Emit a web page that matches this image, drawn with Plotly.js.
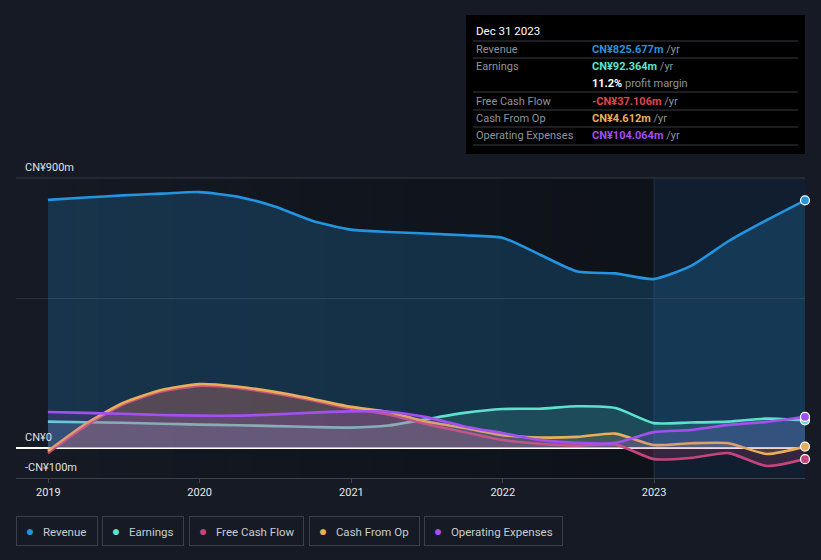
<!DOCTYPE html>
<html>
<head>
<meta charset="utf-8">
<script src="https://cdn.plot.ly/plotly-3.0.1.min.js"></script>
<style>
  html, body { margin: 0; padding: 0; background: #151a24; }
  #chart { width: 821px; height: 560px; }
</style>
</head>
<body>
<div id="chart"></div>
<script>
// ---- data ----
const dates = ['2018-12-31','2019-03-31','2019-06-30','2019-09-30','2019-12-31','2020-03-31','2020-06-30','2020-09-30','2020-12-31','2021-03-31','2021-06-30','2021-09-30','2021-12-31','2022-03-31','2022-06-30','2022-09-30','2022-12-31','2023-03-31','2023-06-30','2023-09-30','2023-12-31'];
const revenue  = [827,835,842,848,853,838,805,757,728,720,715,709,701,645,588,582,563,607,690,760,825.677];
const earnings = [88,86,84,81,78,76,73,70,68,75,96,117,130,131,139,133,83,85,88,98,92.364];
const freeCashFlow = [-17,72,145,188,207,200,182,158,131,112,80,53,27,14,8,12,-37,-33,-17,-60,-37.106];
const cashFromOp   = [-10,80,150,193,213,205,187,163,137,120,88,67,43,35,37,48,10,16,16,-20,4.612];
const opExpenses   = [120,117,114,110,108,108,112,118,122,121,103,72,50,27,17,17,53,60,77,87,104.064];

const seriesNames = ['Revenue','Earnings','Free Cash Flow','Cash From Op','Operating Expenses'];
const seriesColors = ['#2394df','#5fe0cc','#c4457e','#e8ae5a','#a44ff0'];
const fillColors = ['rgba(35,148,223,0.22)','rgba(95,224,204,0.16)','rgba(196,69,126,0.2)','rgba(232,174,90,0.16)','rgba(164,79,240,0.16)'];
const seriesData = [revenue, earnings, freeCashFlow, cashFromOp, opExpenses];

const xTickVals = ['2019-01-01','2020-01-01','2021-01-01','2022-01-01','2023-01-01'];
const xTickText = ['2019','2020','2021','2022','2023'];
const yLabelVals = [900, 0, -100];
const yLabelText = ['CN¥900m','CN¥0','-CN¥100m'];

const tipTitle = 'Dec 31 2023';
const tipLabels = ['Revenue','Earnings','','Free Cash Flow','Cash From Op','Operating Expenses'];
const tipValues = ['CN¥825.677m','CN¥92.364m','11.2%','-CN¥37.106m','CN¥4.612m','CN¥104.064m'];
const tipColors = ['#2394df','#5fe0cc','#ffffff','#e0434d','#e8ae5a','#a44ff0'];
const tipSuffix = [' /yr',' /yr',' profit margin',' /yr',' /yr',' /yr'];

// ---- geometry helpers (pixel -> paper) ----
const L = 16, R = 805, T = 178, B = 478;
const px = v => (v - L) / (R - L);
const py = v => (B - v) / (B - T);

// ---- traces ----
const traces = [];
seriesData.forEach((s, i) => {
  traces.push({
    x: dates, y: s, type: 'scatter', mode: 'lines', name: seriesNames[i],
    line: {color: seriesColors[i], width: 2.6, shape: 'spline', smoothing: 0.6},
    fill: 'tozeroy', fillcolor: fillColors[i], hoverinfo: 'skip', showlegend: false
  });
});
seriesData.forEach((s, i) => {
  traces.push({
    x: [dates[dates.length-1]], y: [s[s.length-1]], type: 'scatter', mode: 'markers',
    marker: {color: seriesColors[i], size: 9, line: {color: '#ffffff', width: 1.2}},
    hoverinfo: 'skip', showlegend: false, cliponaxis: false
  });
});

// ---- shapes ----
const shapes = [];
// darkening gradient over the past period
const gStart = new Date(dates[0]).getTime(), gEnd = new Date('2023-01-01').getTime();
const nSlices = 24;
for (let k = 0; k < nSlices; k++) {
  const a = new Date(gStart + (gEnd - gStart) * k / nSlices).toISOString().slice(0,10);
  const b = new Date(gStart + (gEnd - gStart) * (k + 1) / nSlices).toISOString().slice(0,10);
  shapes.push({type:'rect', xref:'x', yref:'paper', x0:a, x1:b, y0:0, y1:1,
    fillcolor:'rgba(0,0,0,' + (0.02 + 0.3 * k / nSlices).toFixed(3) + ')', line:{width:0}, layer:'below'});
}
// highlighted last year
shapes.push({type:'rect', xref:'x', yref:'paper', x0:'2023-01-01', x1:dates[dates.length-1], y0:0, y1:1,
  fillcolor:'rgba(17,31,48,0.95)', line:{width:0}, layer:'below'});
shapes.push({type:'line', xref:'x', yref:'paper', x0:'2023-01-01', x1:'2023-01-01', y0:0, y1:1,
  line:{color:'rgba(40,70,100,0.6)', width:1}, layer:'below'});
// top rule
shapes.push({type:'line', xref:'paper', yref:'paper', x0:0, x1:1, y0:1, y1:1,
  line:{color:'#353b45', width:1}, layer:'below'});

// tooltip box
shapes.push({type:'rect', xref:'paper', yref:'paper', x0:px(466), x1:px(805), y0:py(154), y1:py(15),
  fillcolor:'#000000', line:{width:0}, layer:'above'});
[41, 58, 92, 110, 127, 145].forEach(yy => {
  shapes.push({type:'line', xref:'paper', yref:'paper', x0:px(473), x1:px(798), y0:py(yy), y1:py(yy),
    line:{color:'#3a3d44', width:1}, layer:'above'});
});

// ---- annotations ----
const annotations = [];
yLabelVals.forEach((v, i) => {
  annotations.push({xref:'paper', yref:'y', x: px(23), y: v, xanchor:'left', yanchor:'bottom',
    text: yLabelText[i], showarrow:false, yshift: 2, font:{color:'#dfe1e4', size:11, family:'Roboto'}});
});
annotations.push({xref:'paper', yref:'paper', x:px(474), y:py(31), xanchor:'left', yanchor:'middle',
  text: tipTitle, showarrow:false, font:{color:'#ffffff', size:11.5, family:'Roboto'}});
const tipRows = [49, 66, 83, 101, 118, 135];
tipLabels.forEach((lab, i) => {
  if (lab) annotations.push({xref:'paper', yref:'paper', x:px(474), y:py(tipRows[i]), xanchor:'left', yanchor:'middle',
    text: lab, showarrow:false, font:{color:'#8f949b', size:11, family:'Roboto'}});
  annotations.push({xref:'paper', yref:'paper', x:px(590), y:py(tipRows[i]), xanchor:'left', yanchor:'middle',
    text: '<b><span style="color:' + tipColors[i] + '">' + tipValues[i] + '</span></b>' + tipSuffix[i],
    showarrow:false, font:{color:'#8f949b', size:11, family:'Roboto'}});
});
// legend (boxed items)
const legLeft = [16, 102, 189, 309, 424];
const legWidth = [82, 82, 115, 111, 139];
seriesNames.forEach((n, i) => {
  annotations.push({xref:'paper', yref:'paper', x:px(legLeft[i]), y:py(531), xanchor:'left', yanchor:'middle',
    text: '&nbsp;<span style="color:' + seriesColors[i] + ';font-size:14px">●</span>&nbsp;&nbsp;&nbsp;' + n,
    align:'left', width: legWidth[i] - 14, height: 16, valign:'middle', borderpad: 6, bordercolor:'#3a3f4a', borderwidth:1,
    showarrow:false, font:{color:'#c9ccd1', size:11.5, family:'Roboto'}});
});

const layout = {
  width: 821, height: 560,
  margin: {l: L, r: 821 - R, t: T, b: 560 - B, pad: 0},
  paper_bgcolor: '#151a24', plot_bgcolor: 'rgba(0,0,0,0)',
  showlegend: false,
  font: {family: 'Roboto', color: '#d0d3d8'},
  xaxis: {
    type: 'date', range: ['2018-10-15', '2023-12-31'],
    tickvals: xTickVals, ticktext: xTickText,
    showgrid: false, zeroline: false,
    showline: true, linecolor: '#3d424c', linewidth: 1,
    ticks: 'outside', ticklen: 4, tickcolor: '#3d424c',
    tickfont: {color: '#e6e8eb', size: 11, family: 'Roboto'}
  },
  yaxis: {
    range: [-100, 900], tickvals: [500], showticklabels: false,
    showgrid: true, gridcolor: '#2a303a', gridwidth: 1,
    zeroline: true, zerolinecolor: '#ffffff', zerolinewidth: 1.2,
    showline: false, fixedrange: true
  },
  shapes: shapes,
  annotations: annotations
};

Plotly.newPlot('chart', traces, layout, {staticPlot: true, displayModeBar: false});
</script>
</body>
</html>
